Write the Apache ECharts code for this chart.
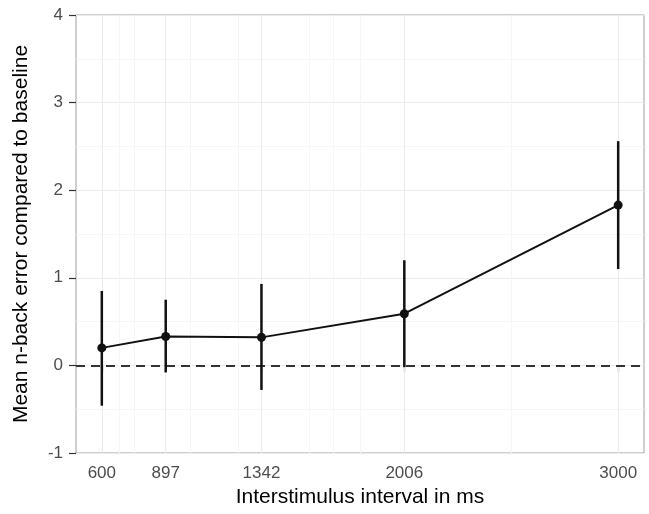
<!DOCTYPE html>
<html>
<head>
<meta charset="utf-8">
<script src="https://cdn.jsdelivr.net/npm/echarts@6/dist/echarts.min.js"></script>
<style>
  html, body { margin: 0; padding: 0; background: #fff; }
  #container { width: 649px; height: 514px; }
</style>
</head>
<body>
<div id="container"></div>
<script>
// interstimulus intervals (ms) and mean n-back error vs baseline
var isi = [600, 897, 1342, 2006, 3000];
var meanErr = [0.20, 0.33, 0.32, 0.59, 1.83];
var errLow = [-0.46, -0.08, -0.28, -0.02, 1.10];
var errHigh = [0.85, 0.75, 0.93, 1.20, 2.56];

var xBreaks = [600, 897, 1342, 2006, 3000];
var xMinorGrid = [681, 748.5, 1010, 1234, 1564, 1674, 1799, 2503];

var myChart = echarts.init(document.getElementById('container'));

var points = [];
var bars = [];
for (var i = 0; i < isi.length; ++i) {
	points.push([isi[i], meanErr[i]]);
	bars.push([isi[i], errLow[i], errHigh[i]]);
}

function vLines(vals, color) {
	var out = [];
	for (var k = 0; k < vals.length; ++k) {
		out.push({ xAxis: vals[k], lineStyle: { color: color, width: 1, type: 'solid' } });
	}
	return out;
}

var option = {
	animation: false,
	grid: {
		left: 76, right: 5, top: 15, bottom: 61,
		show: true, borderColor: '#9e9e9e', borderWidth: 1, backgroundColor: 'transparent'
	},
	xAxis: {
		type: 'value',
		min: 480,
		max: 3120,
		name: 'Interstimulus interval in ms',
		nameLocation: 'middle',
		nameGap: 30,
		nameTextStyle: { fontFamily: 'Liberation Sans', fontSize: 21, color: '#000' },
		axisLine: { show: false },
		axisTick: { show: true, customValues: xBreaks, length: 7, lineStyle: { color: '#333', width: 1.2 } },
		axisLabel: {
			customValues: xBreaks, margin: 12, fontFamily: 'Liberation Sans', fontSize: 17, color: '#4d4d4d',
			formatter: function (v) { return String(v); }
		},
		splitLine: { show: false }
	},
	yAxis: {
		type: 'value',
		min: -1,
		max: 4,
		interval: 1,
		name: 'Mean n-back error compared to baseline',
		nameLocation: 'middle',
		nameGap: 44,
		nameTextStyle: { fontFamily: 'Liberation Sans', fontSize: 21, color: '#000' },
		axisLine: { show: false },
		axisTick: { show: true, length: 7, lineStyle: { color: '#333', width: 1.2 } },
		axisLabel: { margin: 13, fontFamily: 'Liberation Sans', fontSize: 17, color: '#4d4d4d' },
		splitLine: { show: true, lineStyle: { color: '#ebebeb', width: 1 } },
		minorTick: { show: false, splitNumber: 2 },
		minorSplitLine: { show: true, lineStyle: { color: '#f6f6f6', width: 1 } }
	},
	series: [
		{
			// vertical grid lines
			type: 'line',
			data: [],
			silent: true,
			z: 1,
			markLine: {
				silent: true,
				z: 1,
				symbol: 'none',
				label: { show: false },
				data: vLines(xMinorGrid, '#f6f6f6').concat(vLines(xBreaks, '#ebebeb'))
			}
		},
		{
			// zero reference line
			type: 'line',
			data: [],
			silent: true,
			z: 3,
			markLine: {
				silent: true,
				z: 3,
				symbol: 'none',
				label: { show: false },
				data: [{ yAxis: 0, lineStyle: { color: '#333', width: 1.8, type: [9, 6] } }]
			}
		},
		{
			// error bars
			type: 'custom',
			z: 4,
			silent: true,
			data: bars,
			renderItem: function (params, api) {
				var top = api.coord([api.value(0), api.value(2)]);
				var bot = api.coord([api.value(0), api.value(1)]);
				return {
					type: 'rect',
					shape: { x: top[0] - 1.25, y: top[1], width: 2.5, height: bot[1] - top[1] },
					style: { fill: '#111', stroke: null }
				};
			}
		},
		{
			type: 'line',
			z: 5,
			data: points,
			symbol: 'circle',
			symbolSize: 9,
			itemStyle: { color: '#111' },
			lineStyle: { color: '#111', width: 2 }
		}
	]
};
myChart.setOption(option);
</script>
</body>
</html>
